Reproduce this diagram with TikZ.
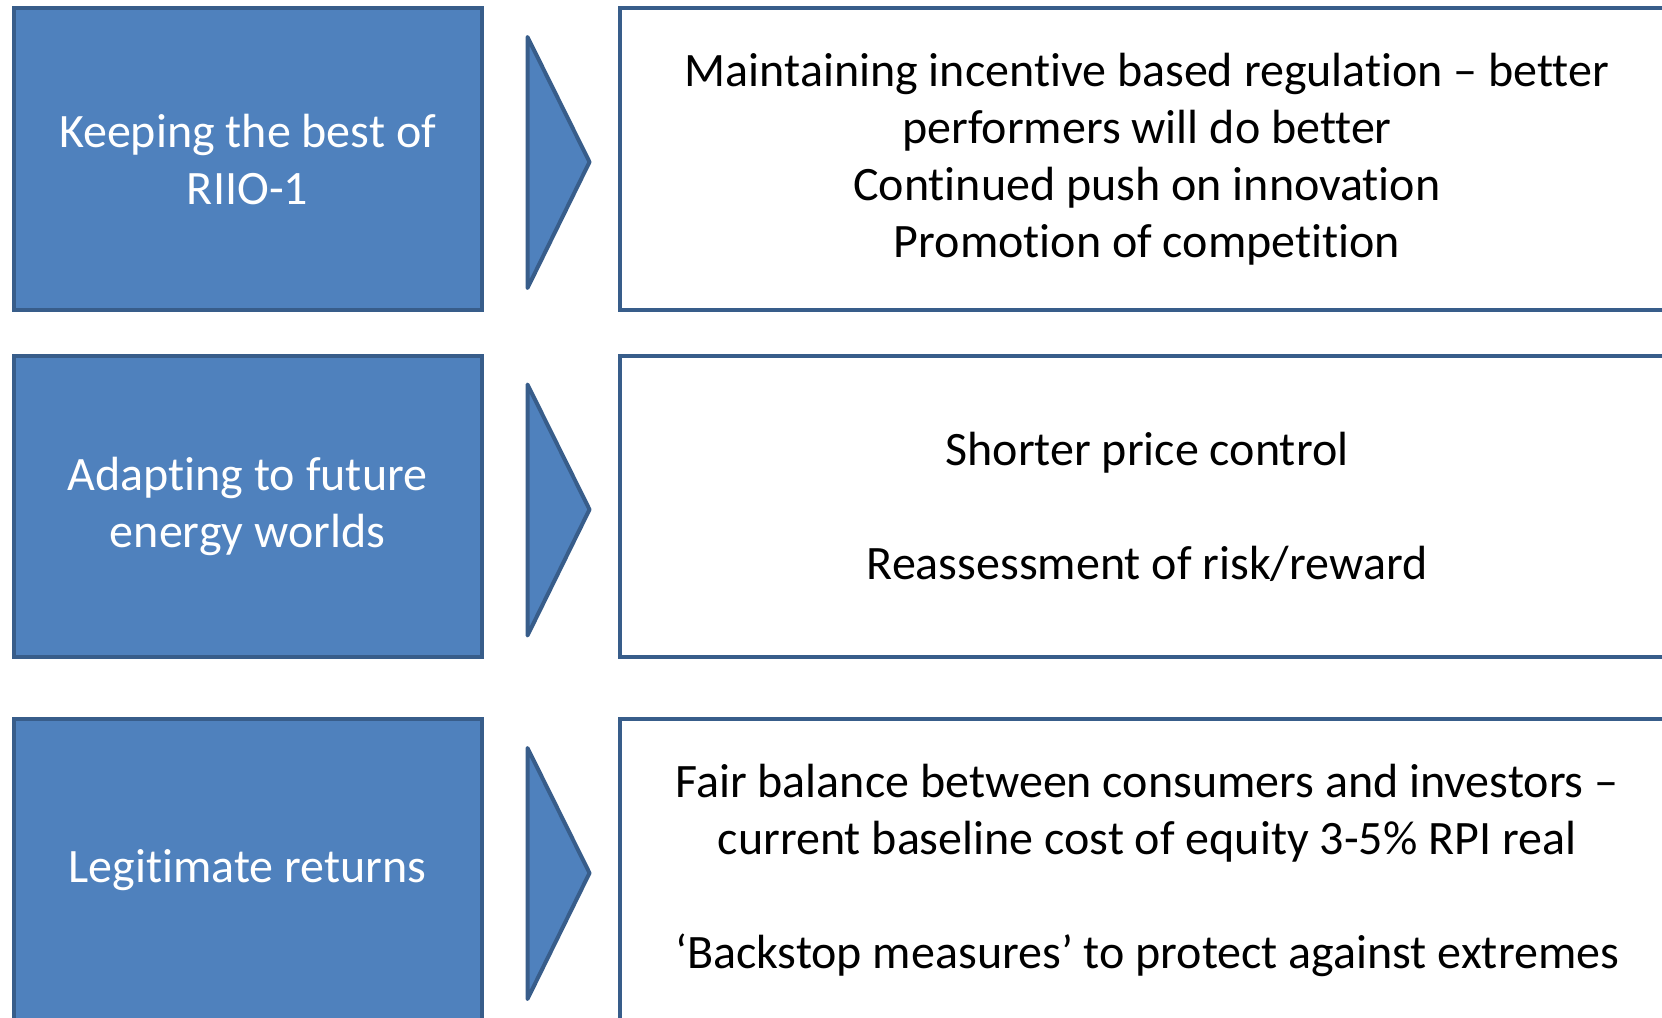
\documentclass[tikz,border=0pt]{standalone}
\usepackage{fontspec}
\setmainfont{Carlito}[Ligatures=NoCommon]
\usetikzlibrary{calc}
\definecolor{fillblue}{HTML}{4F81BD}
\definecolor{edgeblue}{HTML}{385D8A}
\begin{document}
\begin{tikzpicture}[x=0.75pt,y=-0.75pt,
  basebox/.style={draw=edgeblue, line width=3pt, align=center, inner sep=0pt,
    font=\fontsize{36}{42.75}\selectfont},
  headbox/.style={basebox, fill=fillblue, text=white,
    minimum width=351pt, minimum height=226pt},
  detailbox/.style={basebox, fill=white, text=black,
    minimum width=790pt, minimum height=226pt},
  chevron/.style={draw=edgeblue, fill=fillblue, line width=3pt, line join=round, line cap=round},
]
\useasboundingbox (0,0) rectangle (1662,1017);
\clip (0,0) rectangle (1662,1017);

% left column: themes
\node[headbox] (h1) at (247.5,159) {Keeping the best of\\RIIO-1};
\node[headbox] (h2) at (247.5,506.5) {Adapting to future\\energy worlds};
\node[headbox] (h3) at (247.5,870) {Legitimate returns};

% right column: details
\node[detailbox] (d1) at (1147,159) {Maintaining incentive based regulation – better\\performers will do better\\Continued push on innovation\\Promotion of competition};
\node[detailbox] (d2) at (1147,506.5) {Shorter price control\\~\\Reassessment of risk/reward};
\node[detailbox] (d3) at (1147,870) {Fair balance between consumers and investors –\\current baseline cost of equity 3-5\% RPI real\\~\\‘Backstop measures’ to protect against extremes};

% chevrons between the columns
\foreach \c in {h1,h2,h3}{
  \draw[chevron] ($(\c.east)+(44,-122)$) -- ($(\c.east)+(106,3)$) -- ($(\c.east)+(44,129)$) -- cycle;
}
\end{tikzpicture}
\end{document}
